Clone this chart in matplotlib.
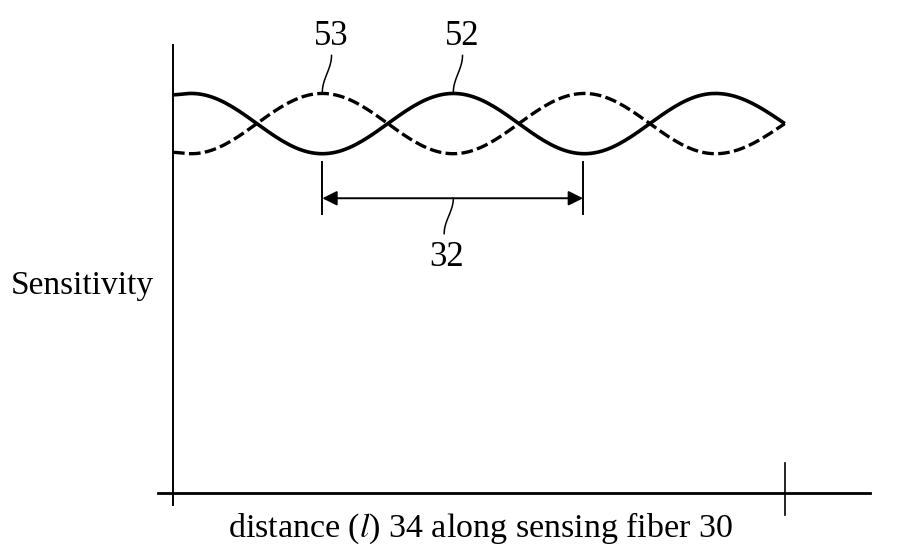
import numpy as np
import matplotlib.pyplot as plt

plt.rcParams['font.family'] = ['Liberation Serif', 'DejaVu Serif']
plt.rcParams['mathtext.fontset'] = 'stix'

# schematic values, x in units of half a beat length, y in the same units above the x axis
fiber_end = 4.67
solid_x = [0.0, 0.14, 1.14, 2.14, 3.14, 4.14, 4.67]
solid_y = [3.04, 3.05, 2.59, 3.05, 2.59, 3.05, 2.82]
dash_x = [0.0, 0.14, 1.14, 2.14, 3.14, 4.14, 4.67]
dash_y = [2.60, 2.59, 3.05, 2.59, 3.05, 2.59, 2.82]
beat_start, beat_end = 1.14, 3.13
y_top = 3.42


def smooth(xs, ys, n=40):
    # half-cosine segments between the read-off extrema,
    # the last one ends at the crossing so it is only a quarter
    px, py = [], []
    last = len(xs) - 2
    for i in range(len(xs) - 1):
        t = np.linspace(0, 1, n)
        if i == last:
            w = 1 - np.cos(np.pi / 2 * t)
        else:
            w = (1 - np.cos(np.pi * t)) / 2
        px.extend(xs[i] + (xs[i + 1] - xs[i]) * t)
        py.extend(ys[i] + (ys[i + 1] - ys[i]) * w)
    return np.array(px), np.array(py)


fig = plt.figure(figsize=(8.99, 5.49), dpi=100)
ax = fig.add_axes([0, 0, 1, 1])
ax.set_xlim(-173 / 131, 726 / 131)
ax.set_ylim(-56 / 131, 493 / 131)
ax.axis('off')

# axes lines
ax.plot([-0.115, 5.32], [0, 0], color='black', lw=2.0)
ax.plot([0, 0], [-0.09, y_top], color='black', lw=1.4)
ax.plot([fiber_end, fiber_end], [-0.17, 0.23], color='black', lw=1.2)

xs, ys = smooth(solid_x, solid_y)
ax.plot(xs, ys, color='black', lw=2.6, solid_capstyle='butt')
xd, yd = smooth(dash_x, dash_y)
ax.plot(xd, yd, color='black', lw=2.4, dashes=(3.5, 1.3))

# beat length marker
for bx in (beat_start, beat_end):
    ax.plot([bx, bx], [2.13, 2.53], color='black', lw=1.4)
ax.annotate('', xy=(beat_start, 2.25), xytext=(beat_end, 2.25),
            arrowprops=dict(arrowstyle='<|-|>', color='black', lw=1.4,
                            mutation_scale=22, shrinkA=0, shrinkB=0))


def leader(x0, y0, x1, y1):
    t = np.linspace(0, 1, 40)
    w = (1 - np.cos(np.pi * t)) / 2
    ax.plot(x0 + (x1 - x0) * w, y0 + (y1 - y0) * t, color='black', lw=1.1)


leader(1.21, 3.34, 1.14, 3.06)
leader(2.21, 3.34, 2.14, 3.06)
leader(2.14, 2.25, 2.07, 1.98)

ax.text(1.21, 3.36, '53', fontsize=25, ha='center', va='bottom')
ax.text(2.21, 3.36, '52', fontsize=25, ha='center', va='bottom')
ax.text(2.09, 1.92, '32', fontsize=25, ha='center', va='top')
ax.text(-1.24, 1.58, 'Sensitivity', fontsize=24, ha='left', va='center')
ax.text(2.35, -0.27, r'distance ($l$) 34 along sensing fiber 30', fontsize=24.5,
        ha='center', va='center')

fig.savefig('out.png', dpi=100)
